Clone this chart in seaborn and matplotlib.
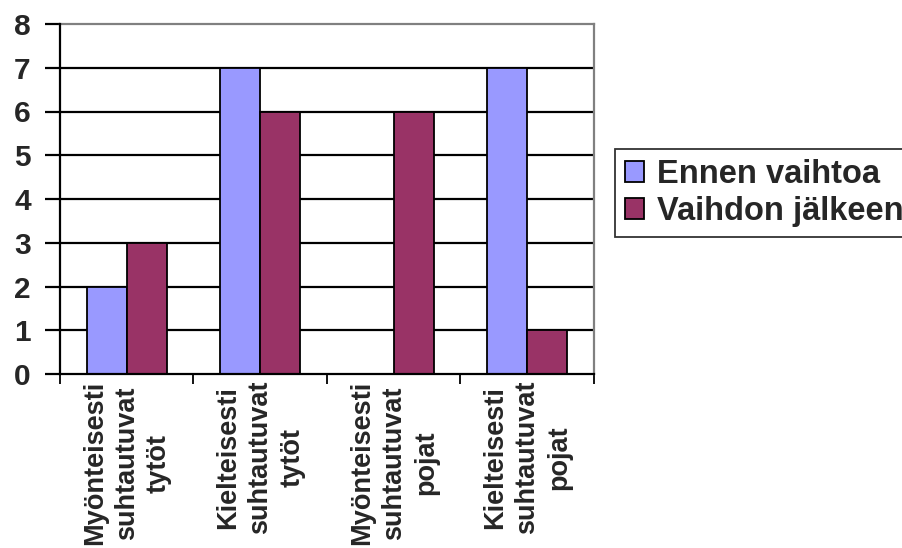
import matplotlib
matplotlib.use("Agg")
import matplotlib.pyplot as plt
import seaborn as sns
import pandas as pd

categories = [
    "Myönteisesti\nsuhtautuvat\ntytöt",
    "Kielteisesti\nsuhtautuvat\ntytöt",
    "Myönteisesti\nsuhtautuvat\npojat",
    "Kielteisesti\nsuhtautuvat\npojat",
]
series_names = ["Ennen vaihtoa", "Vaihdon jälkeen"]
ennen_vaihtoa = [2, 7, 0, 7]
vaihdon_jalkeen = [3, 6, 6, 1]
y_ticks = [0, 1, 2, 3, 4, 5, 6, 7, 8]

df = pd.DataFrame({
    "kategoria": categories * 2,
    "sarja": [series_names[0]] * len(categories) + [series_names[1]] * len(categories),
    "arvo": ennen_vaihtoa + vaihdon_jalkeen,
})

sns.set_theme(style="white")
plt.rcParams["font.family"] = ["Liberation Sans", "DejaVu Sans"]
plt.rcParams["font.weight"] = "bold"

fig = plt.figure(figsize=(9.03, 5.48), dpi=100)
W, H = 903, 548
ax = fig.add_axes([60 / W, (H - 374) / H, (594 - 60) / W, 350 / H])

palette = {series_names[0]: "#9999FF", series_names[1]: "#993366"}
sns.barplot(data=df, x="kategoria", y="arvo", hue="sarja", order=categories,
            hue_order=series_names, palette=palette, width=0.6, gap=0,
            edgecolor="black", linewidth=1.3, saturation=1, ax=ax, zorder=3)

ax.set_xlim(-0.5, len(categories) - 0.5)
ax.set_ylim(0, 8)
ax.set_yticks(y_ticks)
ax.set_yticklabels([str(t) for t in y_ticks], fontsize=21.5, fontweight="bold")
ax.set_xlabel("")
ax.set_ylabel("")

# horizontal gridlines
for t in y_ticks[1:-1]:
    ax.axhline(t, color="black", lw=1.6, zorder=1)

# category labels centred, tick marks at group boundaries
ax.set_xticks(range(len(categories)))
ax.set_xticklabels(categories, rotation=90, fontsize=19.5, fontweight="bold",
                   ha="center", va="top", multialignment="center",
                   linespacing=1.3)
ax.tick_params(axis="x", length=0, pad=5)
ax.set_xticks([i - 0.5 for i in range(len(categories) + 1)], minor=True)
ax.tick_params(axis="x", which="minor", length=7, width=1.3, color="black",
               direction="out", bottom=True)
ax.tick_params(axis="y", length=11, width=1.6, color="black", direction="out",
               left=True, pad=10)

for side in ["left", "bottom"]:
    ax.spines[side].set_color("black")
    ax.spines[side].set_linewidth(1.6)
    ax.spines[side].set_zorder(4)
for side in ["top", "right"]:
    ax.spines[side].set_color("#808080")
    ax.spines[side].set_linewidth(1.6)

handles, labels = ax.get_legend_handles_labels()
ax.legend_.remove()
leg = fig.legend(handles, labels, loc="upper left",
                 bbox_to_anchor=(615 / W, (H - 149) / H),
                 bbox_transform=fig.transFigure,
                 prop={"family": "Liberation Sans", "weight": "bold", "size": 23.5},
                 frameon=True, fancybox=False, edgecolor="black",
                 handlelength=0.6, handleheight=0.6, handletextpad=0.4,
                 borderpad=0.3, labelspacing=0.2, borderaxespad=0)
leg.get_frame().set_linewidth(1.3)

fig.savefig("out.png", dpi=100, facecolor="white")
